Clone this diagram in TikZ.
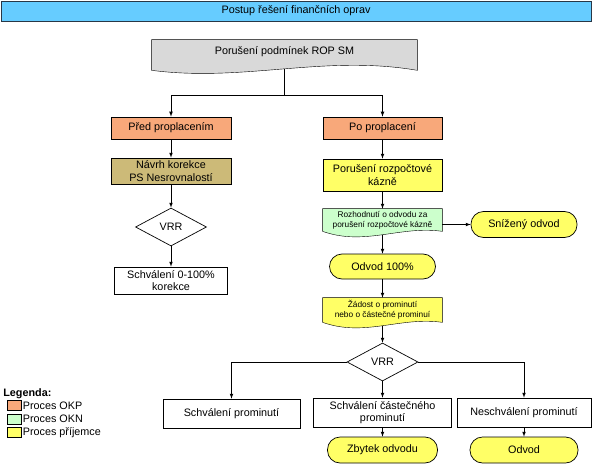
\documentclass[tikz,border=0pt]{standalone}
\usepackage{fontspec}
\setmainfont{Liberation Sans}
\usetikzlibrary{arrows,positioning,shapes,shapes.geometric,calc,backgrounds}

\definecolor{titleblue}{RGB}{102,204,255}
\definecolor{docgray}{RGB}{217,217,217}
\definecolor{okp}{RGB}{248,168,122}
\definecolor{okn}{RGB}{204,255,204}
\definecolor{prij}{RGB}{255,255,102}
\definecolor{khaki}{RGB}{204,186,120}
\definecolor{framecol}{RGB}{40,55,70}

% document node outline: name, fill, extra side length, rise (right), dip (left)
\newcommand{\docshape}[5]{%
  \begin{scope}[on background layer]
    \draw[fill=#2] ($(#1.south west)+(0,#3)$) -- (#1.north west) -- (#1.north east) -- ($(#1.south east)+(0,#3)$)
      .. controls ($(#1.south east)!0.35!(#1.south west)+(0,#3-#4)$) and ($(#1.south west)!0.35!(#1.south east)+(0,#3+#5)$) .. ($(#1.south west)+(0,#3)$) -- cycle;
  \end{scope}
  \coordinate (#1-foot) at ($(#1.south)+(0,{#3+0.375*(#5-#4)})$);}

\begin{document}
\begin{tikzpicture}[x=1pt,y=-1pt,line width=0.7pt,
    every node/.style={font=\fontsize{10.8}{12.5}\selectfont,align=center,inner sep=1pt},
    box/.style={draw,rectangle},
    small/.style={font=\fontsize{8.3}{10}\selectfont},
    term/.style={draw,rectangle,rounded corners=12.5pt,fill=prij,minimum height=25pt},
    decision/.style={draw,diamond,inner sep=0pt,minimum width=71pt,minimum height=38pt},
    swatch/.style={draw,rectangle,inner sep=0pt,minimum width=14pt,minimum height=10pt}]
    \useasboundingbox (0,0) rectangle (593,465);

    \node[draw=framecol,fill=titleblue,minimum width=590pt,minimum height=20pt] (title) at (296,11) {Postup řešení finančních oprav};

    \node[minimum width=265pt,minimum height=24pt] (podm) at (284.5,52) {Porušení podmínek ROP SM};
    \docshape{podm}{docgray}{6}{16}{12}
    \coordinate (split) at (284.5,95);

    % left branch
    \node[box,fill=okp,minimum width=120pt,minimum height=22pt] (pred) at (171,128) {Před proplacením};
    \node[box,fill=khaki,minimum width=120pt,minimum height=26pt] (navrh) at (171,171) {Návrh korekce\\ PS Nesrovnalostí};
    \node[decision] (vrra) at (171,227) {VRR};
    \node[box,minimum width=113pt,minimum height=27pt] (schvkor) at (171,280.5) {Schválení 0-100\%\\ korekce};

    % right branch
    \node[box,fill=okp,minimum width=119pt,minimum height=22pt] (po) at (382.5,128) {Po proplacení};
    \node[box,fill=prij,minimum width=119pt,minimum height=32pt] (rbk) at (382.5,175) {Porušení rozpočtové\\ kázně};
    \node[small,minimum width=119pt,minimum height=22pt] (rozh) at (382.5,220) {Rozhodnutí o odvodu za\\ porušení rozpočtové kázně};
    \docshape{rozh}{okn}{0}{6}{15}
    \node[term,minimum width=106pt,minimum height=26pt] (sniz) at (524,224.5) {Snížený odvod};
    \node[term,minimum width=106pt] (odv100) at (382.5,266.5) {Odvod 100\%};
    \node[small,minimum width=119pt,minimum height=24pt] (zadost) at (382.5,310) {Žádost o prominutí\\ nebo o částečné prominuí};
    \docshape{zadost}{prij}{0}{6}{15}
    \node[decision] (vrrb) at (382.5,362) {VRR};

    \node[box,minimum width=137pt,minimum height=29pt] (schprom) at (231.5,413.5) {Schválení prominutí};
    \node[box,minimum width=138pt,minimum height=29pt] (schcast) at (382.5,412.5) {Schválení částečného\\ prominutí};
    \node[box,minimum width=134pt,minimum height=29pt] (neschv) at (524,412.5) {Neschválení prominutí};
    \node[term,minimum width=110pt,minimum height=26pt] (zbytek) at (382.5,450) {Zbytek odvodu};
    \node[term,minimum width=108pt,minimum height=26pt] (odvod) at (524,450) {Odvod};

    % legend
    \node[anchor=west,font=\fontsize{10.8}{12.5}\selectfont\bfseries] (legenda) at (2,394) {Legenda:};
    \node[swatch,fill=okp] (swokp) at (14.5,405.5) {};
    \node[anchor=west] (lokp) at (21.5,405.5) {Proces OKP};
    \node[swatch,fill=okn] (swokn) at (14.5,419) {};
    \node[anchor=west] (lokn) at (21.5,419) {Proces OKN};
    \node[swatch,fill=prij] (swprij) at (14.5,432.5) {};
    \node[anchor=west] (lprij) at (21.5,432.5) {Proces příjemce};

    \draw (podm-foot) -- (split);
    \draw[->,>=latex] (split) -| (pred);
    \draw[->,>=latex] (split) -| (po);
    \draw[->,>=latex] (pred) -- (navrh);
    \draw[->,>=latex] (navrh) -- (vrra);
    \draw[->,>=latex] (vrra) -- (schvkor);
    \draw[->,>=latex] (po) -- (rbk);
    \draw[->,>=latex] (rbk) -- (rozh);
    \draw[->,>=latex] (rozh.east |- sniz) -- (sniz);
    \draw[->,>=latex] (rozh-foot) -- (odv100);
    \draw[->,>=latex] (odv100) -- (zadost);
    \draw[->,>=latex] (zadost-foot) -- (vrrb);
    \draw[->,>=latex] (vrrb.west) -| (schprom);
    \draw[->,>=latex] (vrrb) -- (schcast);
    \draw[->,>=latex] (vrrb.east) -| (neschv);
    \draw[->,>=latex] (schcast) -- (zbytek);
    \draw[->,>=latex] (neschv) -- (odvod);

  \end{tikzpicture}
\end{document}
